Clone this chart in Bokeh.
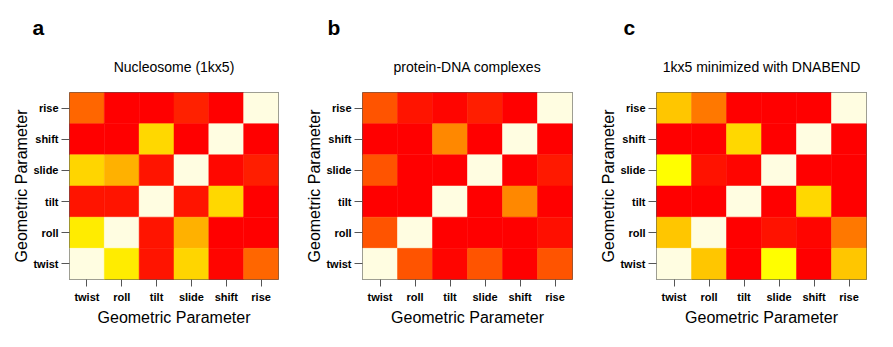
from bokeh.plotting import figure
from bokeh.models import LinearColorMapper, Title, ColumnDataSource
from bokeh.layouts import row
from bokeh.transform import transform
from bokeh.embed import file_html
from bokeh.resources import INLINE

# Geometric parameters (x axis left->right, y axis bottom->top)
params = ["twist", "roll", "tilt", "slide", "shift", "rise"]
# Matrix rows as they appear top -> bottom
row_order = ["rise", "shift", "slide", "tilt", "roll", "twist"]

# Correlation magnitude per cell (1.0 = diagonal)
nucleosome = [
    [0.40, 0.00, 0.00, 0.13, 0.00, 1.00],
    [0.00, 0.00, 0.84, 0.00, 1.00, 0.00],
    [0.83, 0.69, 0.08, 1.00, 0.03, 0.12],
    [0.08, 0.08, 1.00, 0.08, 0.84, 0.00],
    [0.92, 1.00, 0.08, 0.69, 0.00, 0.00],
    [1.00, 0.92, 0.08, 0.83, 0.02, 0.40],
]
protein_dna = [
    [0.33, 0.08, 0.02, 0.12, 0.00, 1.00],
    [0.00, 0.00, 0.53, 0.00, 1.00, 0.00],
    [0.33, 0.00, 0.00, 1.00, 0.00, 0.10],
    [0.00, 0.00, 1.00, 0.00, 0.53, 0.00],
    [0.33, 1.00, 0.00, 0.00, 0.00, 0.06],
    [1.00, 0.33, 0.02, 0.33, 0.00, 0.33],
]
dnabend = [
    [0.77, 0.47, 0.00, 0.00, 0.00, 1.00],
    [0.00, 0.00, 0.84, 0.00, 1.00, 0.00],
    [0.99, 0.07, 0.02, 1.00, 0.00, 0.00],
    [0.00, 0.00, 1.00, 0.00, 0.84, 0.00],
    [0.77, 1.00, 0.00, 0.07, 0.02, 0.47],
    [1.00, 0.77, 0.00, 0.99, 0.00, 0.77],
]

panel_letters = ["a", "b", "c"]
panel_titles = ["Nucleosome (1kx5)", "protein-DNA complexes", "1kx5 minimized with DNABEND"]
axis_title = "Geometric Parameter"

palette = ["#ff%02x00" % i for i in range(256)]
mapper = LinearColorMapper(palette=palette, low=0, high=0.995, high_color="#FFFDE1")

FONT = "Liberation Sans"


def make_panel(letter, title, matrix, fw, left, right, letter_off):
    xs, ys, vs = [], [], []
    for r, rname in enumerate(row_order):
        for c, cname in enumerate(params):
            xs.append(cname)
            ys.append(rname)
            vs.append(matrix[r][c])
    src = ColumnDataSource(dict(x=xs, y=ys, v=vs))
    p = figure(frame_width=fw, frame_height=187, x_range=params, y_range=params,
               output_backend="svg", toolbar_location=None, title=letter,
               min_border_left=left, min_border_right=right,
               min_border_top=92, min_border_bottom=10)
    p.rect(x="x", y="y", width=1, height=1, source=src,
           fill_color=transform("v", mapper), line_color=transform("v", mapper),
           line_width=0.5)
    p.grid.visible = False
    p.outline_line_color = "#555555"
    p.outline_line_width = 1
    p.title.text_font = FONT
    p.title.text_font_size = "21px"
    p.title.text_font_style = "bold"
    p.title.text_color = "black"
    p.title.align = "left"
    p.title.offset = letter_off
    p.title.standoff = 0
    p.add_layout(Title(text=title, text_font=FONT, text_font_size="14px",
                       text_font_style="normal", text_color="black",
                       align="center", standoff=36), "above")
    for ax in (p.xaxis[0], p.yaxis[0]):
        ax.axis_line_color = None
        ax.major_tick_in = 0
        ax.major_tick_out = 7
        ax.major_tick_line_color = "#555555"
        ax.major_label_text_font = FONT
        ax.major_label_text_font_style = "bold"
        ax.major_label_text_font_size = "11px"
        ax.major_label_text_color = "black"
        ax.axis_label = axis_title
        ax.axis_label_text_font = FONT
        ax.axis_label_text_font_style = "normal"
        ax.axis_label_text_font_size = "16px"
        ax.axis_label_text_color = "black"
    p.xaxis.major_label_standoff = 4
    p.xaxis.axis_label_standoff = 3
    p.yaxis.major_tick_out = 8
    p.yaxis.major_label_standoff = 3
    p.yaxis.axis_label_standoff = 0
    return p


p1 = make_panel(panel_letters[0], panel_titles[0], nucleosome, 209, 69, 24, -37)
p2 = make_panel(panel_letters[1], panel_titles[1], protein_dna, 210, 60, 24, -35)
p3 = make_panel(panel_letters[2], panel_titles[2], dnabend, 210, 60, 19, -33)

layout = row(p1, p2, p3)
open("out.html", "w").write(file_html(layout, INLINE))
